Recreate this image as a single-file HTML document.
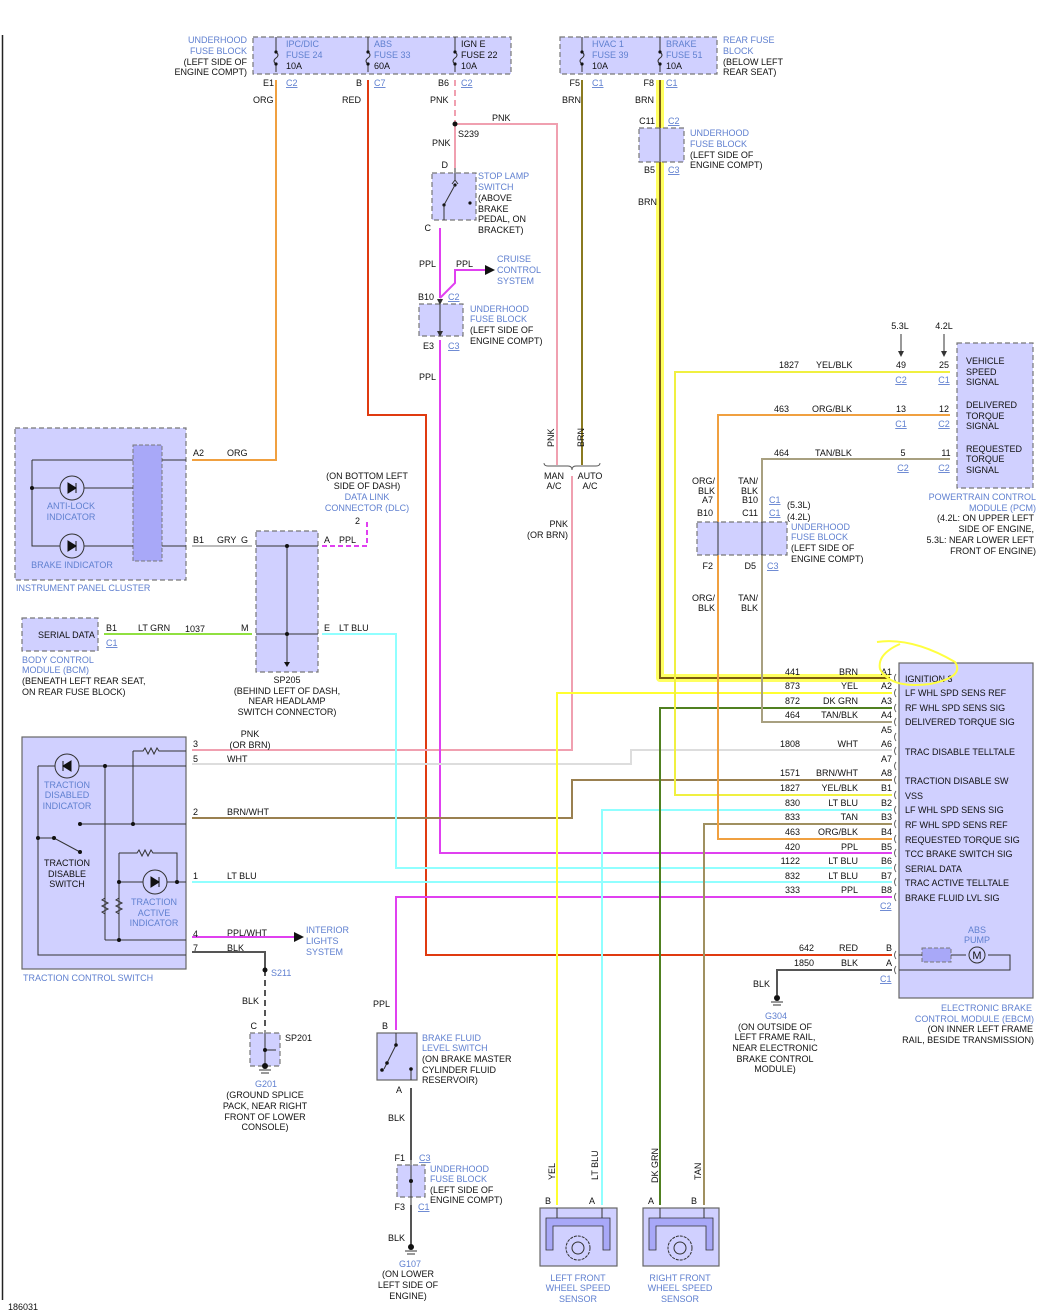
<!DOCTYPE html>
<html><head><meta charset="utf-8">
<style>
html,body{margin:0;padding:0;background:#fff;}
svg{display:block;font-family:"Liberation Sans",sans-serif;font-size:9px;}
.b{fill:#6080d0;}
.k{fill:#111;}
.u{fill:#6080d0;text-decoration:underline;}
.box{fill:#d0d0ff;stroke:#777;stroke-width:1.2;stroke-dasharray:5,3;}
.sbox{fill:#d0d0ff;stroke:#666;stroke-width:1.2;}
.w{fill:none;stroke-width:2;}
.bl{fill:none;stroke:#333;stroke-width:1;}
.cn{fill:none;stroke:#555;stroke-width:0.9;}
</style></head><body>
<svg width="1060" height="1312" viewBox="0 0 1060 1312" xmlns="http://www.w3.org/2000/svg">
<defs>
<marker id="ar" markerWidth="6" markerHeight="6" refX="5" refY="3" orient="auto"><path d="M0,0 L6,3 L0,6 Z" fill="#333"/></marker>
</defs>
<line x1="2.5" y1="35" x2="2.5" y2="1300" stroke="#222" stroke-width="1.5"/>
<text x="8" y="1310" class="k">186031</text>

<!-- ===== TOP FUSE BLOCKS ===== -->
<rect x="253" y="37" width="258" height="37" class="box"/>
<rect x="560" y="37" width="157" height="37" class="box"/>
<g class="bl">
<path d="M276,37 V52 q4,3 0,6 q-4,3 0,6 V72"/>
<path d="M368,37 V52 q4,3 0,6 q-4,3 0,6 V72"/>
<path d="M455,37 V52 q4,3 0,6 q-4,3 0,6 V72"/>
<path d="M582,37 V52 q4,3 0,6 q-4,3 0,6 V72"/>
<path d="M660,37 V52 q4,3 0,6 q-4,3 0,6 V72"/>
</g>
<g fill="#111"><circle cx="276" cy="52" r="1.6"/><circle cx="276" cy="64" r="1.6"/><circle cx="368" cy="52" r="1.6"/><circle cx="368" cy="64" r="1.6"/><circle cx="455" cy="52" r="1.6"/><circle cx="455" cy="64" r="1.6"/><circle cx="582" cy="52" r="1.6"/><circle cx="582" cy="64" r="1.6"/><circle cx="660" cy="52" r="1.6"/><circle cx="660" cy="64" r="1.6"/></g>
<text x="286" y="47" class="b">IPC/DIC</text><text x="286" y="58" class="b">FUSE 24</text><text x="286" y="69" class="k">10A</text>
<text x="374" y="47" class="b">ABS</text><text x="374" y="58" class="b">FUSE 33</text><text x="374" y="69" class="k">60A</text>
<text x="461" y="47" class="k">IGN E</text><text x="461" y="58" class="k">FUSE 22</text><text x="461" y="69" class="k">10A</text>
<text x="592" y="47" class="b">HVAC 1</text><text x="592" y="58" class="b">FUSE 39</text><text x="592" y="69" class="k">10A</text>
<text x="666" y="47" class="b">BRAKE</text><text x="666" y="58" class="b">FUSE 51</text><text x="666" y="69" class="k">10A</text>
<text x="247" y="43" class="b" text-anchor="end">UNDERHOOD</text><text x="247" y="54" class="b" text-anchor="end">FUSE BLOCK</text><text x="247" y="65" class="k" text-anchor="end">(LEFT SIDE OF</text><text x="247" y="75" class="k" text-anchor="end">ENGINE COMPT)</text>
<text x="723" y="43" class="b">REAR FUSE</text><text x="723" y="54" class="b">BLOCK</text><text x="723" y="65" class="k">(BELOW LEFT</text><text x="723" y="75" class="k">REAR SEAT)</text>
<text x="274" y="86" class="k" text-anchor="end">E1</text><text x="286" y="86" class="u">C2</text>
<text x="362" y="86" class="k" text-anchor="end">B</text><text x="374" y="86" class="u">C7</text>
<text x="449" y="86" class="k" text-anchor="end">B6</text><text x="461" y="86" class="u">C2</text>
<text x="580" y="86" class="k" text-anchor="end">F5</text><text x="592" y="86" class="u">C1</text>
<text x="654" y="86" class="k" text-anchor="end">F8</text><text x="666" y="86" class="u">C1</text>
<text x="253" y="103" class="k">ORG</text><text x="342" y="103" class="k">RED</text><text x="430" y="103" class="k">PNK</text>
<text x="562" y="103" class="k">BRN</text><text x="635" y="103" class="k">BRN</text>

<!-- ===== WIRES ===== -->
<path d="M660,80 V678 H890" fill="none" stroke="#ffff60" stroke-width="8" stroke-linejoin="round"/>
<path d="M660,80 V678 H890" class="w" stroke="#7a5a10" stroke-width="2"/>
<path d="M276,80 V460 H192" class="w" stroke="#f0a040"/>
<path d="M368,80 V415 H426 V955 H892" class="w" stroke="#e03a10"/>
<path d="M455,80 V124" class="w" stroke="#f0a0b0" stroke-dasharray="6,4"/>
<path d="M455,124 H557 V465" class="w" stroke="#f0a0b0"/>
<path d="M455,124 V168" class="w" stroke="#f0a0b0"/>
<circle cx="455" cy="124" r="2.5" fill="#111"/>
<path d="M582,80 V465" class="w" stroke="#8a7a20"/>
<path d="M572,476 V750 H192" class="w" stroke="#f0a0b0"/>
<path d="M440,228 V298" class="w" stroke="#e040f0"/>
<path d="M440,298 L455,283 V270 H486" class="w" stroke="#e040f0"/>
<path d="M440,340 V853 H892" class="w" stroke="#e040f0"/>
<path d="M192,764 H631 V750 H892" class="w" stroke="#dddddd"/>
<path d="M192,818 H572 V780 H892" class="w" stroke="#9a8050"/>
<path d="M322,634 H396 V868 H892" class="w" stroke="#90ffff"/>
<path d="M192,882 H892" class="w" stroke="#90ffff"/>
<path d="M396,1030 V897 H892" class="w" stroke="#e040f0"/>
<path d="M557,1205 V693 H892" class="w" stroke="#ffff30"/>
<path d="M602,1205 V810 H892" class="w" stroke="#90ffff"/>
<path d="M660,1205 V708 H892" class="w" stroke="#508020"/>
<path d="M704,1205 V824 H892" class="w" stroke="#a09060"/>
<path d="M950,372 H675 V795 H892" class="w" stroke="#f0f040"/>
<path d="M950,415 H718 V839 H892" class="w" stroke="#f0a040"/>
<path d="M950,459 H762 V722 H892" class="w" stroke="#a8a080"/>
<path d="M777,995 V970 H892" class="w" stroke="#555"/>
<path d="M192,546 H252" class="w" stroke="#bbb"/>
<path d="M104,634 H252" class="w" stroke="#90e040"/>
<path d="M322,546 H367 V522" class="w" stroke="#e040f0" stroke-dasharray="5,3"/>
<path d="M192,937 H296" class="w" stroke="#e040f0"/>
<path d="M294,932 L304,937 L294,942 Z" fill="#111"/>
<path d="M192,952 H265 V970" class="w" stroke="#555"/>
<path d="M265,970 V1028" class="w" stroke="#555" stroke-dasharray="6,4"/>
<circle cx="265" cy="970" r="2.5" fill="#111"/>
<path d="M411,1088 V1160 M411,1205 V1246" class="w" stroke="#555"/>

<!-- ===== Stop lamp switch ===== -->
<rect x="432" y="173" width="44" height="47" class="box"/>
<path d="M455,168 V180 M455,180 l-3,4 M455,180 l3,4" class="bl"/>
<circle cx="455" cy="185" r="1.6" fill="#111"/><line x1="455" y1="185" x2="444" y2="205" class="bl"/><circle cx="444" cy="205" r="1.6" fill="#111"/><circle cx="470" cy="203" r="1.6" fill="#111"/>
<path d="M444,205 V220" class="bl"/>
<text x="448" y="168" class="k" text-anchor="end">D</text><text x="431" y="231" class="k" text-anchor="end">C</text>
<text x="478" y="179" class="b">STOP LAMP</text><text x="478" y="190" class="b">SWITCH</text><text x="478" y="201" class="k">(ABOVE</text><text x="478" y="212" class="k">BRAKE</text><text x="478" y="222" class="k">PEDAL, ON</text><text x="478" y="233" class="k">BRACKET)</text>
<text x="458" y="137" class="k">S239</text><text x="432" y="146" class="k">PNK</text><text x="492" y="121" class="k">PNK</text>
<text x="419" y="267" class="k">PPL</text><text x="456" y="267" class="k">PPL</text>
<text x="497" y="262" class="b">CRUISE</text><text x="497" y="273" class="b">CONTROL</text><text x="497" y="284" class="b">SYSTEM</text>
<path d="M485,265 L495,270 L485,275 Z" fill="#111"/>
<rect x="419" y="304" width="44" height="32" class="box"/>
<path d="M440,304 V336" class="bl" marker-end="url(#ar)" marker-start="url(#ar)"/>
<text x="434" y="300" class="k" text-anchor="end">B10</text><text x="448" y="300" class="u">C2</text>
<text x="434" y="349" class="k" text-anchor="end">E3</text><text x="448" y="349" class="u">C3</text>
<text x="470" y="312" class="b">UNDERHOOD</text><text x="470" y="322" class="b">FUSE BLOCK</text><text x="470" y="333" class="k">(LEFT SIDE OF</text><text x="470" y="344" class="k">ENGINE COMPT)</text>
<text x="419" y="380" class="k">PPL</text>

<rect x="639" y="128" width="45" height="34" class="box"/>
<path d="M660,128 V162" class="bl"/>
<text x="655" y="124" class="k" text-anchor="end">C11</text><text x="668" y="124" class="u">C2</text>
<text x="655" y="173" class="k" text-anchor="end">B5</text><text x="668" y="173" class="u">C3</text>
<text x="690" y="136" class="b">UNDERHOOD</text><text x="690" y="147" class="b">FUSE BLOCK</text><text x="690" y="158" class="k">(LEFT SIDE OF</text><text x="690" y="168" class="k">ENGINE COMPT)</text>
<text x="638" y="205" class="k">BRN</text>

<!-- MAN/AUTO -->
<text x="554" y="447" class="k" transform="rotate(-90 554 447)">PNK</text>
<text x="584" y="447" class="k" transform="rotate(-90 584 447)">BRN</text>
<path d="M544,463 q0,3 4,3 h20 q4,0 4,4 q0,-4 4,-4 h20 q4,0 4,-3" class="cn"/>
<text x="554" y="479" class="k" text-anchor="middle">MAN</text><text x="554" y="489" class="k" text-anchor="middle">A/C</text>
<text x="590" y="479" class="k" text-anchor="middle">AUTO</text><text x="590" y="489" class="k" text-anchor="middle">A/C</text>
<text x="568" y="527" class="k" text-anchor="end">PNK</text><text x="568" y="538" class="k" text-anchor="end">(OR BRN)</text>

<!-- PCM -->
<rect x="957" y="343" width="76" height="145" class="box"/>
<text x="966" y="364" class="k">VEHICLE</text><text x="966" y="375" class="k">SPEED</text><text x="966" y="385" class="k">SIGNAL</text>
<text x="966" y="408" class="k">DELIVERED</text><text x="966" y="419" class="k">TORQUE</text><text x="966" y="429" class="k">SIGNAL</text>
<text x="966" y="452" class="k">REQUESTED</text><text x="966" y="462" class="k">TORQUE</text><text x="966" y="473" class="k">SIGNAL</text>
<text x="900" y="329" class="k" text-anchor="middle">5.3L</text><text x="944" y="329" class="k" text-anchor="middle">4.2L</text>
<line x1="901" y1="334" x2="901" y2="356" class="bl" marker-end="url(#ar)"/><line x1="944" y1="334" x2="944" y2="356" class="bl" marker-end="url(#ar)"/>
<text x="779" y="368" class="k">1827</text><text x="816" y="368" class="k">YEL/BLK</text><text x="901" y="368" class="k" text-anchor="middle">49</text><text x="944" y="368" class="k" text-anchor="middle">25</text>
<text x="901" y="383" class="u" text-anchor="middle">C2</text><text x="944" y="383" class="u" text-anchor="middle">C1</text>
<text x="774" y="412" class="k">463</text><text x="812" y="412" class="k">ORG/BLK</text><text x="901" y="412" class="k" text-anchor="middle">13</text><text x="944" y="412" class="k" text-anchor="middle">12</text>
<text x="901" y="427" class="u" text-anchor="middle">C1</text><text x="944" y="427" class="u" text-anchor="middle">C2</text>
<text x="774" y="456" class="k">464</text><text x="815" y="456" class="k">TAN/BLK</text><text x="903" y="456" class="k" text-anchor="middle">5</text><text x="946" y="456" class="k" text-anchor="middle">11</text>
<text x="903" y="471" class="u" text-anchor="middle">C2</text><text x="944" y="471" class="u" text-anchor="middle">C2</text>
<text x="1036" y="500" class="b" text-anchor="end">POWERTRAIN CONTROL</text><text x="1036" y="511" class="b" text-anchor="end">MODULE (PCM)</text>
<text x="1034" y="521" class="k" text-anchor="end">(4.2L: ON UPPER LEFT</text><text x="1034" y="532" class="k" text-anchor="end">SIDE OF ENGINE,</text><text x="1034" y="543" class="k" text-anchor="end">5.3L: NEAR LOWER LEFT</text><text x="1036" y="554" class="k" text-anchor="end">FRONT OF ENGINE)</text>

<rect x="697" y="522" width="90" height="33" class="box"/>
<path d="M718,522 V555 M762,522 V555" class="bl"/>
<text x="715" y="484" class="k" text-anchor="end">ORG/</text><text x="715" y="494" class="k" text-anchor="end">BLK</text><text x="713" y="503" class="k" text-anchor="end">A7</text><text x="713" y="516" class="k" text-anchor="end">B10</text>
<text x="758" y="484" class="k" text-anchor="end">TAN/</text><text x="758" y="494" class="k" text-anchor="end">BLK</text><text x="758" y="503" class="k" text-anchor="end">B10</text><text x="758" y="516" class="k" text-anchor="end">C11</text>
<text x="769" y="503" class="u">C1</text><text x="769" y="516" class="u">C1</text><text x="787" y="508" class="k">(5.3L)</text><text x="787" y="520" class="k">(4.2L)</text>
<text x="791" y="530" class="b">UNDERHOOD</text><text x="791" y="540" class="b">FUSE BLOCK</text><text x="791" y="551" class="k">(LEFT SIDE OF</text><text x="791" y="562" class="k">ENGINE COMPT)</text>
<text x="713" y="569" class="k" text-anchor="end">F2</text><text x="756" y="569" class="k" text-anchor="end">D5</text><text x="767" y="569" class="u">C3</text>
<text x="715" y="601" class="k" text-anchor="end">ORG/</text><text x="715" y="611" class="k" text-anchor="end">BLK</text>
<text x="758" y="601" class="k" text-anchor="end">TAN/</text><text x="758" y="611" class="k" text-anchor="end">BLK</text>

<!-- EBCM -->
<rect x="899" y="663" width="134" height="335" class="sbox"/>
<g class="k">
<text x="905" y="682">IGNITION 3</text><text x="905" y="696">LF WHL SPD SENS REF</text><text x="905" y="711">RF WHL SPD SENS SIG</text><text x="905" y="725">DELIVERED TORQUE SIG</text>
<text x="905" y="755">TRAC DISABLE TELLTALE</text><text x="905" y="784">TRACTION DISABLE SW</text><text x="905" y="799">VSS</text>
<text x="905" y="813">LF WHL SPD SENS SIG</text><text x="905" y="828">RF WHL SPD SENS REF</text><text x="905" y="843">REQUESTED TORQUE SIG</text>
<text x="905" y="857">TCC BRAKE SWITCH SIG</text><text x="905" y="872">SERIAL DATA</text><text x="905" y="886">TRAC ACTIVE TELLTALE</text><text x="905" y="901">BRAKE FLUID LVL SIG</text>
</g>
<g class="k" text-anchor="end">
<text x="892" y="675">A1</text><text x="892" y="689">A2</text><text x="892" y="704">A3</text><text x="892" y="718">A4</text><text x="892" y="733">A5</text><text x="892" y="747">A6</text><text x="892" y="762">A7</text><text x="892" y="776">A8</text>
<text x="892" y="791">B1</text><text x="892" y="806">B2</text><text x="892" y="820">B3</text><text x="892" y="835">B4</text><text x="892" y="850">B5</text><text x="892" y="864">B6</text><text x="892" y="879">B7</text><text x="892" y="893">B8</text>
<text x="892" y="951">B</text><text x="892" y="966">A</text>
<text x="800" y="675">441</text><text x="800" y="689">873</text><text x="800" y="704">872</text><text x="800" y="718">464</text><text x="800" y="747">1808</text><text x="800" y="776">1571</text>
<text x="800" y="791">1827</text><text x="800" y="806">830</text><text x="800" y="820">833</text><text x="800" y="835">463</text><text x="800" y="850">420</text><text x="800" y="864">1122</text><text x="800" y="879">832</text><text x="800" y="893">333</text>
<text x="814" y="951">642</text><text x="814" y="966">1850</text>
<text x="858" y="675">BRN</text><text x="858" y="689">YEL</text><text x="858" y="704">DK GRN</text><text x="858" y="718">TAN/BLK</text><text x="858" y="747">WHT</text><text x="858" y="776">BRN/WHT</text>
<text x="858" y="791">YEL/BLK</text><text x="858" y="806">LT BLU</text><text x="858" y="820">TAN</text><text x="858" y="835">ORG/BLK</text><text x="858" y="850">PPL</text><text x="858" y="864">LT BLU</text><text x="858" y="879">LT BLU</text><text x="858" y="893">PPL</text>
<text x="858" y="951">RED</text><text x="858" y="966">BLK</text>
</g>
<text x="880" y="909" class="u">C2</text><text x="880" y="982" class="u">C1</text>
<g class="cn"><path d="M896,674 q-3,4 0,8 M896,689 q-3,4 0,8 M896,704 q-3,4 0,8 M896,718 q-3,4 0,8 M896,733 q-3,4 0,8 M896,747 q-3,4 0,8 M896,762 q-3,4 0,8 M896,776 q-3,4 0,8 M896,791 q-3,4 0,8 M896,806 q-3,4 0,8 M896,820 q-3,4 0,8 M896,835 q-3,4 0,8 M896,849 q-3,4 0,8 M896,864 q-3,4 0,8 M896,878 q-3,4 0,8 M896,893 q-3,4 0,8 M896,951 q-3,4 0,8 M896,966 q-3,4 0,8"/></g>
<text x="977" y="933" class="b" text-anchor="middle">ABS</text><text x="977" y="943" class="b" text-anchor="middle">PUMP</text>
<rect x="922" y="948" width="29" height="14" fill="#a8a8f8" stroke="#777" stroke-dasharray="4,2"/>
<path d="M899,955 H922 M951,955 H966 M988,955 H1010 V970 H899" class="bl"/>
<circle cx="977" cy="955" r="8" fill="#d0d0ff" stroke="#333"/><text x="977" y="959" class="k" text-anchor="middle" font-size="11">M</text>
<text x="1032" y="1011" class="b" text-anchor="end">ELECTRONIC BRAKE</text><text x="1034" y="1022" class="b" text-anchor="end">CONTROL MODULE (EBCM)</text>
<text x="1033" y="1032" class="k" text-anchor="end">(ON INNER LEFT FRAME</text><text x="1034" y="1043" class="k" text-anchor="end">RAIL, BESIDE TRANSMISSION)</text>
<path d="M877,642 q35,-5 78,20 q10,15 -25,22 q-40,5 -50,-15 q-3,-15 20,-25" fill="none" stroke="#ffff40" stroke-width="2"/>
<circle cx="777" cy="998" r="3" fill="#111"/><path d="M771,1002 h12 M773,1005 h8" class="bl"/>
<text x="753" y="987" class="k">BLK</text>
<text x="776" y="1019" class="b" text-anchor="middle">G304</text>
<text x="775" y="1030" class="k" text-anchor="middle">(ON OUTSIDE OF</text><text x="775" y="1040" class="k" text-anchor="middle">LEFT FRAME RAIL,</text><text x="775" y="1051" class="k" text-anchor="middle">NEAR ELECTRONIC</text><text x="775" y="1062" class="k" text-anchor="middle">BRAKE CONTROL</text><text x="775" y="1072" class="k" text-anchor="middle">MODULE)</text>

<!-- IPC -->
<rect x="15" y="428" width="171" height="152" class="box"/>
<rect x="133" y="445" width="29" height="116" fill="#a8a8f8" stroke="#777" stroke-dasharray="4,2"/>
<path d="M32,460 H133 M32,460 V546 H133 M32,488 H133 M162,460 H186 M162,546 H186" class="bl"/>
<circle cx="32" cy="488" r="2" fill="#111"/>
<circle cx="72" cy="488" r="12" fill="#d0d0ff" stroke="#333"/><path d="M68,483 L76,488 L68,493 Z M76,483 V493" fill="#111" stroke="#111"/>
<circle cx="72" cy="546" r="12" fill="#d0d0ff" stroke="#333"/><path d="M68,541 L76,546 L68,551 Z M76,541 V551" fill="#111" stroke="#111"/>
<text x="71" y="509" class="b" text-anchor="middle">ANTI-LOCK</text><text x="71" y="520" class="b" text-anchor="middle">INDICATOR</text>
<text x="72" y="568" class="b" text-anchor="middle">BRAKE INDICATOR</text>
<text x="16" y="591" class="b">INSTRUMENT PANEL CLUSTER</text>
<text x="193" y="456" class="k">A2</text><text x="227" y="456" class="k">ORG</text>
<text x="193" y="543" class="k">B1</text><text x="217" y="543" class="k">GRY</text><text x="241" y="543" class="k">G</text>
<rect x="256" y="531" width="62" height="141" class="box"/>
<path d="M256,546 H318 M256,634 H318 M287,546 V665" class="bl"/>
<circle cx="287" cy="546" r="2" fill="#111"/><circle cx="287" cy="634" r="2" fill="#111"/>
<path d="M284,662 L287,667 L290,662 Z" fill="#111"/>
<text x="324" y="543" class="k">A</text><text x="339" y="543" class="k">PPL</text>
<text x="324" y="631" class="k">E</text><text x="339" y="631" class="k">LT BLU</text>
<text x="287" y="683" class="k" text-anchor="middle">SP205</text><text x="287" y="694" class="k" text-anchor="middle">(BEHIND LEFT OF DASH,</text><text x="287" y="704" class="k" text-anchor="middle">NEAR HEADLAMP</text><text x="287" y="715" class="k" text-anchor="middle">SWITCH CONNECTOR)</text>
<text x="367" y="479" class="k" text-anchor="middle">(ON BOTTOM LEFT</text><text x="367" y="489" class="k" text-anchor="middle">SIDE OF DASH)</text><text x="367" y="500" class="b" text-anchor="middle">DATA LINK</text><text x="367" y="511" class="b" text-anchor="middle">CONNECTOR (DLC)</text>
<text x="360" y="524" class="k" text-anchor="end">2</text>
<rect x="22" y="618" width="76" height="33" class="box"/>
<text x="38" y="638" class="k">SERIAL DATA</text>
<text x="106" y="631" class="k">B1</text><text x="106" y="646" class="u">C1</text>
<text x="138" y="631" class="k">LT GRN</text><text x="185" y="632" class="k">1037</text><text x="241" y="631" class="k">M</text>
<text x="22" y="663" class="b">BODY CONTROL</text><text x="22" y="673" class="b">MODULE (BCM)</text><text x="22" y="684" class="k">(BENEATH LEFT REAR SEAT,</text><text x="22" y="695" class="k">ON REAR FUSE BLOCK)</text>

<!-- TCS -->
<rect x="22" y="737" width="164" height="232" class="sbox"/>
<path d="M133,751 h10 l2,-3 l3,6 l3,-6 l3,6 l3,-6 l2,3 H186 M133,751 V824 M38,766 H186 M38,766 V955 H186 M105,766 V940 M80,824 H186 M38,838 L54,838 L80,852 M119,853 V940 M119,853 h18 l2,-3 l3,6 l3,-6 l3,6 l3,-6 l2,3 H177 V882 M119,882 H186 M105,940 H186" class="bl"/>
<path d="M105,898 l-3,2 l6,3 l-6,3 l6,3 l-6,3 l3,2 M119,898 l-3,2 l6,3 l-6,3 l6,3 l-6,3 l3,2" class="bl"/>
<g fill="#111"><circle cx="105" cy="766" r="2"/><circle cx="80" cy="824" r="2"/><circle cx="133" cy="824" r="2"/><circle cx="38" cy="838" r="2"/><circle cx="54" cy="838" r="2"/><circle cx="80" cy="852" r="2"/><circle cx="119" cy="882" r="2"/><circle cx="177" cy="882" r="2"/><circle cx="119" cy="940" r="2"/></g>
<circle cx="67" cy="766" r="12" fill="#d0d0ff" stroke="#333"/><path d="M71,761 L63,766 L71,771 Z M63,761 V771" fill="#111" stroke="#111"/>
<circle cx="155" cy="882" r="12" fill="#d0d0ff" stroke="#333"/><path d="M151,877 L159,882 L151,887 Z M159,877 V887" fill="#111" stroke="#111"/>
<text x="67" y="788" class="b" text-anchor="middle">TRACTION</text><text x="67" y="798" class="b" text-anchor="middle">DISABLED</text><text x="67" y="809" class="b" text-anchor="middle">INDICATOR</text>
<text x="67" y="866" class="k" text-anchor="middle">TRACTION</text><text x="67" y="877" class="k" text-anchor="middle">DISABLE</text><text x="67" y="887" class="k" text-anchor="middle">SWITCH</text>
<text x="154" y="905" class="b" text-anchor="middle">TRACTION</text><text x="154" y="916" class="b" text-anchor="middle">ACTIVE</text><text x="154" y="926" class="b" text-anchor="middle">INDICATOR</text>
<text x="23" y="981" class="b">TRACTION CONTROL SWITCH</text>
<text x="193" y="747" class="k">3</text><text x="193" y="762" class="k">5</text><text x="193" y="815" class="k">2</text><text x="193" y="879" class="k">1</text><text x="193" y="937" class="k">4</text><text x="193" y="951" class="k">7</text>
<text x="250" y="737" class="k" text-anchor="middle">PNK</text><text x="250" y="748" class="k" text-anchor="middle">(OR BRN)</text>
<text x="227" y="762" class="k">WHT</text><text x="227" y="815" class="k">BRN/WHT</text><text x="227" y="879" class="k">LT BLU</text>
<text x="227" y="936" class="k">PPL/WHT</text><text x="227" y="951" class="k">BLK</text>
<text x="306" y="933" class="b">INTERIOR</text><text x="306" y="944" class="b">LIGHTS</text><text x="306" y="955" class="b">SYSTEM</text>
<text x="271" y="976" class="b">S211</text><text x="242" y="1004" class="k">BLK</text>
<rect x="250" y="1033" width="30" height="33" class="box"/>
<path d="M265,1030 V1066 M265,1050 H276" class="bl"/>
<circle cx="265" cy="1050" r="2" fill="#111"/><circle cx="265" cy="1066" r="3" fill="#111"/>
<path d="M259,1070 h12 M261,1073 h8" class="bl"/>
<text x="257" y="1029" class="k" text-anchor="end">C</text><text x="285" y="1041" class="k">SP201</text>
<text x="266" y="1087" class="b" text-anchor="middle">G201</text>
<text x="265" y="1098" class="k" text-anchor="middle">(GROUND SPLICE</text><text x="265" y="1109" class="k" text-anchor="middle">PACK, NEAR RIGHT</text><text x="265" y="1120" class="k" text-anchor="middle">FRONT OF LOWER</text><text x="265" y="1130" class="k" text-anchor="middle">CONSOLE)</text>

<!-- Brake fluid level switch -->
<rect x="377" y="1033" width="40" height="47" class="sbox"/>
<path d="M396,1033 V1045 L384,1069 M411,1069 V1080" class="bl"/>
<g fill="#111"><circle cx="396" cy="1045" r="1.8"/><circle cx="387" cy="1063" r="1.8"/><circle cx="382" cy="1070" r="1.8"/><circle cx="411" cy="1069" r="1.8"/></g>
<text x="373" y="1007" class="k">PPL</text><text x="388" y="1029" class="k" text-anchor="end">B</text><text x="402" y="1093" class="k" text-anchor="end">A</text>
<text x="422" y="1041" class="b">BRAKE FLUID</text><text x="422" y="1051" class="b">LEVEL SWITCH</text><text x="422" y="1062" class="k">(ON BRAKE MASTER</text><text x="422" y="1073" class="k">CYLINDER FLUID</text><text x="422" y="1083" class="k">RESERVOIR)</text>
<text x="388" y="1121" class="k">BLK</text>
<rect x="397" y="1165" width="28" height="32" class="box"/>
<path d="M411,1160 V1205" class="bl"/><circle cx="411" cy="1181" r="2" fill="#111"/>
<text x="405" y="1161" class="k" text-anchor="end">F1</text><text x="419" y="1161" class="u">C3</text>
<text x="405" y="1210" class="k" text-anchor="end">F3</text><text x="418" y="1210" class="u">C1</text>
<text x="430" y="1172" class="b">UNDERHOOD</text><text x="430" y="1182" class="b">FUSE BLOCK</text><text x="430" y="1193" class="k">(LEFT SIDE OF</text><text x="430" y="1203" class="k">ENGINE COMPT)</text>
<text x="388" y="1241" class="k">BLK</text>
<circle cx="411" cy="1247" r="3" fill="#111"/><path d="M405,1251 h12 M407,1254 h8" class="bl"/>
<text x="410" y="1267" class="b" text-anchor="middle">G107</text><text x="408" y="1277" class="k" text-anchor="middle">(ON LOWER</text><text x="408" y="1288" class="k" text-anchor="middle">LEFT SIDE OF</text><text x="408" y="1299" class="k" text-anchor="middle">ENGINE)</text>

<!-- Wheel speed sensors -->
<g>
<rect x="540" y="1208" width="77" height="58" class="sbox"/>
<path d="M546,1218 H610 V1250 H603 V1226 H553 V1250 H546 Z" fill="#a8a8f8" stroke="#333" stroke-width="0.8"/>
<circle cx="578" cy="1248" r="12" fill="#d0d0ff" stroke="#333" stroke-dasharray="3,1"/><circle cx="578" cy="1248" r="6" fill="none" stroke="#333"/>
<path d="M557,1218 V1208 M602,1218 V1208" class="bl"/>
<text x="551" y="1204" class="k" text-anchor="end">B</text><text x="595" y="1204" class="k" text-anchor="end">A</text>
<text x="555" y="1180" class="k" transform="rotate(-90 555 1180)">YEL</text><text x="598" y="1180" class="k" transform="rotate(-90 598 1180)">LT BLU</text>
<text x="578" y="1281" class="b" text-anchor="middle">LEFT FRONT</text><text x="578" y="1291" class="b" text-anchor="middle">WHEEL SPEED</text><text x="578" y="1302" class="b" text-anchor="middle">SENSOR</text>
</g>
<g>
<rect x="643" y="1208" width="76" height="58" class="sbox"/>
<path d="M649,1218 H713 V1250 H706 V1226 H656 V1250 H649 Z" fill="#a8a8f8" stroke="#333" stroke-width="0.8"/>
<circle cx="680" cy="1248" r="12" fill="#d0d0ff" stroke="#333" stroke-dasharray="3,1"/><circle cx="680" cy="1248" r="6" fill="none" stroke="#333"/>
<path d="M660,1218 V1208 M704,1218 V1208" class="bl"/>
<text x="654" y="1204" class="k" text-anchor="end">A</text><text x="697" y="1204" class="k" text-anchor="end">B</text>
<text x="658" y="1183" class="k" transform="rotate(-90 658 1183)">DK GRN</text><text x="701" y="1180" class="k" transform="rotate(-90 701 1180)">TAN</text>
<text x="680" y="1281" class="b" text-anchor="middle">RIGHT FRONT</text><text x="680" y="1291" class="b" text-anchor="middle">WHEEL SPEED</text><text x="680" y="1302" class="b" text-anchor="middle">SENSOR</text>
</g>
</svg>
</body></html>
